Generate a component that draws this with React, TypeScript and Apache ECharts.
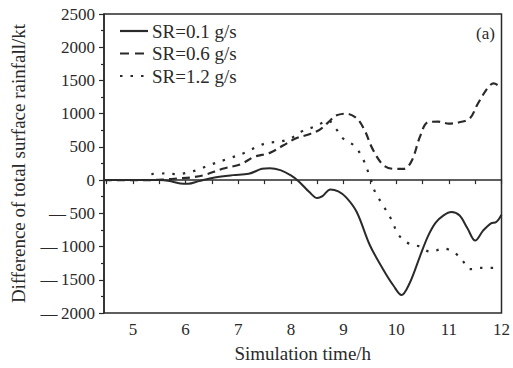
import React, { useEffect, useRef } from "react";
import * as echarts from "echarts";

const seriesNames = ["SR=0.1 g/s", "SR=0.6 g/s", "SR=1.2 g/s"];

const sr01: [number, number][] = [
  [4.45, 0], [5.0, 0], [5.5, 0], [5.7, -15], [5.9, -50], [6.05, -55], [6.25, -15],
  [6.55, 40], [6.9, 75], [7.2, 95], [7.45, 170], [7.6, 180], [7.8, 150], [8.0, 70],
  [8.15, -20], [8.35, -180], [8.5, -270], [8.6, -240], [8.75, -140], [8.9, -170],
  [9.05, -260], [9.25, -480], [9.5, -980], [9.75, -1340], [9.95, -1590], [10.1, -1730],
  [10.25, -1560], [10.45, -1150], [10.6, -850], [10.75, -640], [10.9, -530], [11.05, -480],
  [11.2, -530], [11.35, -720], [11.5, -910], [11.65, -760], [11.8, -650], [11.9, -630], [12, -520],
];

const sr06: [number, number][] = [
  [4.45, 0], [5.3, 0], [5.6, 10], [5.85, 25], [6.1, 40], [6.35, 75], [6.7, 170], [7.05, 240],
  [7.3, 350], [7.6, 410], [7.85, 520], [8.1, 630], [8.35, 690], [8.55, 760], [8.75, 900],
  [8.85, 970], [9.05, 1000], [9.25, 930], [9.4, 750], [9.55, 470], [9.75, 230], [9.95, 170],
  [10.15, 170], [10.3, 300], [10.45, 650], [10.6, 870], [10.8, 880], [11.0, 850], [11.2, 870],
  [11.4, 930], [11.55, 1150], [11.75, 1400], [11.85, 1455], [12, 1390],
];

const sr12: [number, number][] = [
  [5.35, 90], [5.6, 100], [5.85, 90], [6.05, 115], [6.25, 160], [6.45, 225],
  [6.8, 320], [7.15, 420], [7.35, 500], [7.55, 560], [7.8, 580], [8.0, 630], [8.2, 730],
  [8.5, 820], [8.7, 900], [8.85, 780], [9.0, 620], [9.2, 520], [9.35, 350], [9.5, 50],
  [9.6, -180], [9.75, -380], [9.9, -580], [10.05, -830], [10.25, -960], [10.45, -1000],
  [10.65, -1080], [10.9, -1030], [11.1, -1090], [11.25, -1200], [11.4, -1340], [11.6, -1320],
  [12, -1320],
];

const xLabelValues = [5, 6, 7, 8, 9, 10, 11, 12];
const xTickValues = [4.5, 5, 5.5, 6, 6.5, 7, 7.5, 8, 8.5, 9, 9.5, 10, 10.5, 11, 11.5, 12];

const FONT = "Liberation Serif, Times New Roman, serif";
const INK = "#2a2a2a";

export default function App() {
  const ref = useRef<HTMLDivElement>(null);
  useEffect(() => {
    if (!ref.current) return;
    const chart = echarts.init(ref.current, undefined, { renderer: "svg" });
    const lineTypes: any[] = ["solid", [8, 5], [2.5, 8]];
    const legendDash: any[] = [null, [9, 6], [2.5, 8]];
    const datas = [sr01, sr06, sr12];
    const legendGraphics: any[] = [];
    seriesNames.forEach((n, i) => {
      const y = 31 + i * 22.5;
      legendGraphics.push({
        type: "line",
        shape: { x1: 120, y1: y, x2: 148, y2: y },
        style: { stroke: INK, lineWidth: 2.2, lineDash: legendDash[i] || undefined },
      });
      legendGraphics.push({
        type: "text",
        x: 152, y: y,
        style: { text: n, font: `19px ${FONT}`, fill: INK, verticalAlign: "middle", align: "left" },
      });
    });
    chart.setOption({
      animation: false,
      backgroundColor: "#fff",
      textStyle: { fontFamily: FONT, color: INK },
      grid: {
        left: 104, right: 7, top: 14, bottom: 54,
        show: true, borderColor: INK, borderWidth: 1.5, backgroundColor: "transparent",
      },
      xAxis: {
        type: "value", min: 4.45, max: 12,
        name: "Simulation time/h", nameLocation: "middle", nameGap: 31,
        nameTextStyle: { fontFamily: FONT, fontSize: 19, color: INK },
        axisLine: { show: true, lineStyle: { color: INK, width: 1.5 } },
        axisTick: { show: true, length: 4, customValues: xTickValues, lineStyle: { color: INK, width: 1.2 } },
        axisLabel: { customValues: xLabelValues, fontFamily: FONT, fontSize: 17, color: INK, margin: 8 },
        splitLine: { show: false },
      },
      yAxis: {
        type: "value", min: -2000, max: 2500, interval: 500,
        name: "Difference of total surface rainfall/kt", nameLocation: "middle", nameGap: 76,
        nameTextStyle: { fontFamily: FONT, fontSize: 19, color: INK },
        axisLine: { show: true, lineStyle: { color: INK, width: 1.5 } },
        axisTick: { show: true, length: 5, lineStyle: { color: INK, width: 1.2 } },
        minorTick: { show: true, splitNumber: 2, length: 3, lineStyle: { color: INK, width: 1.2 } },
        axisLabel: {
          fontFamily: FONT, fontSize: 17, color: INK, margin: 9,
          formatter: (v: number) => (v < 0 ? "\u2014\u2009" + Math.abs(v) : String(v)),
        },
        splitLine: { show: false },
      },
      graphic: [
        ...legendGraphics,
        { type: "text", x: 476, y: 33, style: { text: "(a)", font: `17px ${FONT}`, fill: INK, verticalAlign: "middle" } },
      ],
      series: datas.map((d, i) => ({
        name: seriesNames[i],
        type: "line",
        data: d,
        smooth: 0.35,
        symbol: "none",
        lineStyle: { color: INK, width: i === 0 ? 2 : 2.2, type: lineTypes[i] },
        itemStyle: { color: INK },
      })),
    });
    return () => chart.dispose();
  }, []);
  return (
    <div
      ref={ref}
      style={{ position: "fixed", left: 0, top: 0, width: 513, height: 368, background: "#fff" }}
    />
  );
}
